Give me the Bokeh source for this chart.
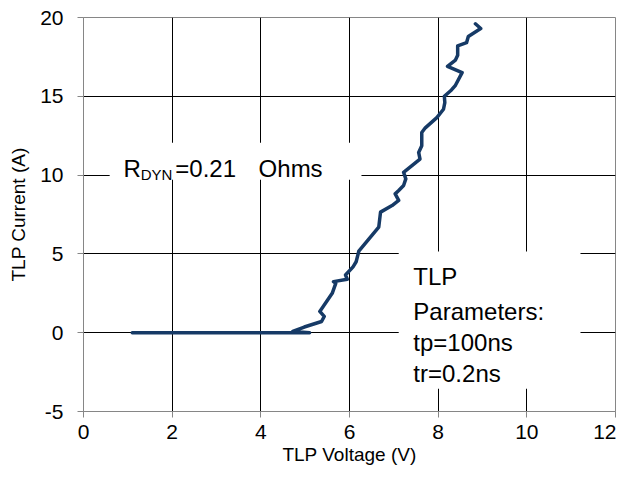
from bokeh.plotting import figure
from bokeh.models import Range1d, FixedTicker, Label, BoxAnnotation
from bokeh.embed import file_html
from bokeh.resources import INLINE

# Data (TLP I-V curve)
voltage = [1.10, 2.00, 3.00, 4.00, 5.10, 4.72, 4.98, 5.37, 5.43, 5.33, 5.61, 5.69,
           5.64, 5.95, 5.91, 6.08, 6.15, 6.21, 6.66, 6.70, 6.96, 7.11, 7.03, 7.11,
           7.22, 7.27, 7.22, 7.59, 7.56, 7.63, 7.63, 7.71, 7.97, 8.12, 8.15, 8.14,
           8.30, 8.39, 8.54, 8.21, 8.39, 8.44, 8.44, 8.64, 8.68, 8.96, 8.84]
current = [0.00, 0.00, 0.00, 0.00, 0.00, 0.08, 0.36, 0.71, 1.03, 1.35, 2.50, 3.13,
           3.24, 3.39, 3.66, 4.18, 4.50, 5.17, 6.70, 7.65, 8.07, 8.40, 8.81, 9.02,
           9.34, 9.76, 10.18, 11.02, 11.44, 11.86, 12.70, 13.00, 13.65, 14.18, 14.60, 15.00,
           15.40, 15.70, 16.50, 16.90, 17.30, 17.60, 18.20, 18.40, 18.80, 19.30, 19.60]

x_ticks = [0, 2, 4, 6, 8, 10, 12]
y_ticks = [-5, 0, 5, 10, 15, 20]
y_tick_labels = {-5: "-5", 0: "0", 5: "5", 10: "10", 15: "15", 20: "20"}
x_grid = [2, 4, 6, 8, 10]
y_grid = [0, 5, 10, 15, 20]

FONT = "Liberation Sans"
AXIS_GREY = "#868686"

p = figure(width=616, height=474, x_range=Range1d(0, 12), y_range=Range1d(-5, 20),
           output_backend="svg", toolbar_location=None,
           min_border_left=83, min_border_right=1, min_border_top=17, min_border_bottom=63)

p.background_fill_color = "white"
p.border_fill_color = "white"
p.outline_line_color = AXIS_GREY
p.outline_line_width = 1

p.xaxis.ticker = FixedTicker(ticks=x_ticks)
p.yaxis.ticker = FixedTicker(ticks=y_ticks)
p.yaxis.major_label_overrides = y_tick_labels
p.xgrid.ticker = FixedTicker(ticks=x_grid)
p.ygrid.ticker = FixedTicker(ticks=y_grid)
for g in (p.xgrid, p.ygrid):
    g.grid_line_color = "black"
    g.grid_line_width = 1
    g.grid_line_alpha = 1.0

for ax in (p.xaxis, p.yaxis):
    ax.axis_line_color = AXIS_GREY
    ax.major_tick_line_color = AXIS_GREY
    ax.minor_tick_line_color = None
    ax.major_tick_in = 0
    ax.major_tick_out = 6
    ax.major_label_text_font = FONT
    ax.major_label_text_font_size = "21px"
    ax.major_label_text_color = "black"
    ax.axis_label_text_font = FONT
    ax.axis_label_text_font_size = "19px"
    ax.axis_label_text_font_style = "normal"
    ax.axis_label_text_color = "black"

p.xaxis.axis_label = "TLP Voltage (V)"
p.yaxis.axis_label = "TLP Current (A)"
p.xaxis.major_label_standoff = 7
p.yaxis.major_label_standoff = 14
p.xaxis.axis_label_standoff = 2
p.yaxis.axis_label_standoff = 8

p.line(voltage, current, line_width=3.5, line_color="#163a66", line_join="round", line_cap="round")

# White boxes behind annotations (hide grid lines)
p.add_layout(BoxAnnotation(left=0.59, right=6.27, bottom=9.71, top=12.05,
                           fill_color="white", fill_alpha=1.0, line_color=None, level="underlay"))
p.add_layout(BoxAnnotation(left=7.11, right=11.21, bottom=-3.55, top=5.16,
                           fill_color="white", fill_alpha=1.0, line_color=None, level="underlay"))

def lab(x, y, text, size="24px"):
    p.add_layout(Label(x=x, y=y, text=text, text_font=FONT, text_font_size=size,
                       text_color="black", text_baseline="alphabetic", text_align="left"))

lab(0.90, 10.42, "R")
lab(1.29, 10.02, "DYN", "15px")
lab(2.07, 10.42, "=0.21")
lab(3.95, 10.42, "Ohms")

lab(7.44, 3.58, "TLP")
lab(7.44, 1.37, "Parameters:")
lab(7.44, -0.65, "tp=100ns")
lab(7.44, -2.61, "tr=0.2ns")

open("out.html", "w").write(file_html(p, INLINE))
